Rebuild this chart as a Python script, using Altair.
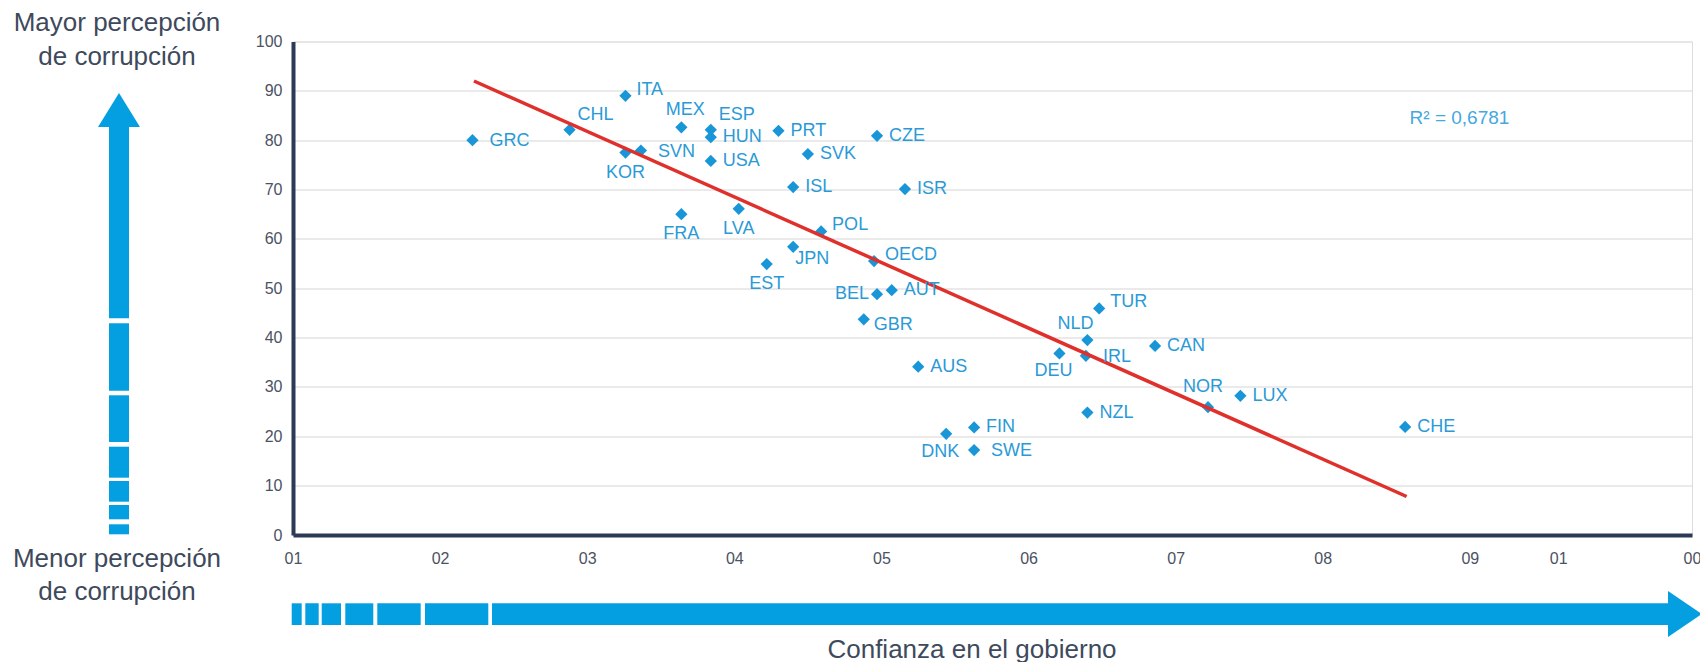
import json
import altair as alt
import pandas as pd

# ---------------- data ----------------
countries = ["GRC", "CHL", "ITA", "KOR", "SVN", "MEX", "FRA", "ESP", "HUN", "USA",
             "PRT", "SVK", "CZE", "ISL", "ISR", "LVA", "POL", "JPN", "EST", "OECD",
             "BEL", "AUT", "GBR", "TUR", "NLD", "DEU", "IRL", "CAN", "AUS", "NOR",
             "LUX", "NZL", "FIN", "DNK", "SWE", "CHE"]
trust = [22.2, 28.8, 32.6, 32.6, 33.65, 36.4, 36.4, 38.4, 38.4, 38.4,
         43.0, 45.0, 49.7, 44.0, 51.6, 40.3, 45.9, 44.0, 42.2, 49.5,
         49.7, 50.7, 48.8, 64.8, 64.0, 62.1, 63.9, 68.6, 52.5, 72.2,
         74.4, 64.0, 56.3, 54.4, 56.3, 85.6]
corruption = [80.0, 82.1, 89.0, 77.5, 77.9, 82.6, 65.0, 82.1, 80.6, 75.8,
              81.9, 77.2, 80.9, 70.5, 70.1, 66.1, 61.5, 58.4, 54.9, 55.5,
              48.8, 49.6, 43.7, 45.9, 39.5, 36.8, 36.3, 38.3, 34.1, 25.9,
              28.2, 24.8, 21.8, 20.5, 17.2, 21.9]

trend_x = [22.3, 85.7]
trend_y = [92.0, 7.8]

r2_text = ["R² = 0,6781"]
r2_x = [85.9]
r2_y = [84.4]

x_tick_values = [10, 20, 30, 40, 50, 60, 70, 80, 90, 96.0, 105.1]
x_tick_labels = ["01", "02", "03", "04", "05", "06", "07", "08", "09", "01", "00"]
y_tick_values = [0, 10, 20, 30, 40, 50, 60, 70, 80, 90, 100]

# ---------------- styling ----------------
FONT = "Liberation Sans"
BLUE_PT = "#1896d8"
BLUE_TXT = "#2a9ad7"
BLUE_R2 = "#45a8e0"
BLUE_ARROW = "#049fe1"
RED = "#e0302b"
DARK = "#3e4a5c"
AXIS = "#2b3a55"
TICK_TXT = "#4b5262"

W, H = 1399, 493.5

df = pd.DataFrame({"country": countries, "trust": trust, "corr": corruption})
trend_df = pd.DataFrame({"trust": trend_x, "corr": trend_y})
r2_df = pd.DataFrame({"trust": r2_x, "corr": r2_y, "t": r2_text})

labels_js = json.dumps(x_tick_labels)
values_js = json.dumps(x_tick_values)

x_enc = alt.X("trust:Q",
              scale=alt.Scale(domain=[10, 105.1], nice=False, zero=False),
              axis=alt.Axis(values=x_tick_values, title=None, grid=False, ticks=False,
                            labelExpr=f"{labels_js}[indexof({values_js}, datum.value)]",
                            labelFont=FONT, labelFontSize=16, labelColor=TICK_TXT,
                            labelPadding=15, domainColor=AXIS, domainWidth=4,
                            labelFlush=False, labelOverlap=False))
y_enc = alt.Y("corr:Q",
              scale=alt.Scale(domain=[0, 100], nice=False, zero=True),
              axis=alt.Axis(values=y_tick_values, title=None, grid=True, ticks=False,
                            gridColor="#e3e3e3", gridWidth=1.5,
                            labelFont=FONT, labelFontSize=16, labelColor=TICK_TXT,
                            labelPadding=11, domainColor=AXIS, domainWidth=4))

base = alt.Chart(df)

points = base.mark_point(shape="diamond", filled=True, size=150, color=BLUE_PT,
                         opacity=1, strokeWidth=0).encode(x=x_enc, y=y_enc)

trend = alt.Chart(trend_df).mark_line(color=RED, strokeWidth=3.5).encode(
    x="trust:Q", y="corr:Q")

r2 = alt.Chart(r2_df).mark_text(align="left", baseline="middle", font=FONT,
                                fontSize=19, color=BLUE_R2).encode(
    x="trust:Q", y="corr:Q", text="t:N")

# label placement (style), countries grouped by where their label sits
placement = {
    "r": (dict(align="left", dx=12, dy=0),
          ["HUN", "USA", "PRT", "SVK", "CZE", "ISL", "ISR", "AUT", "CAN", "AUS",
           "LUX", "NZL", "FIN", "CHE"]),
    "rg": (dict(align="left", dx=10, dy=6), ["GBR"]),
    "rw": (dict(align="left", dx=17, dy=1), ["GRC", "SVN", "IRL", "SWE"]),
    "ru": (dict(align="left", dx=11, dy=-6), ["ITA", "POL", "OECD", "TUR"]),
    "ar": (dict(align="left", dx=8, dy=-15), ["CHL", "ESP"]),
    "a": (dict(align="center", dx=4, dy=-17), ["MEX"]),
    "an": (dict(align="center", dx=-5, dy=-20), ["NOR"]),
    "al": (dict(align="center", dx=-12, dy=-16), ["NLD"]),
    "b": (dict(align="center", dx=0, dy=20), ["KOR", "FRA", "LVA", "EST"]),
    "bl": (dict(align="center", dx=-6, dy=18), ["DEU", "DNK"]),
    "br": (dict(align="left", dx=2, dy=12), ["JPN"]),
    "l": (dict(align="right", dx=-8, dy=0), ["BEL"]),
}
label_layers = []
for key, (props, members) in placement.items():
    label_layers.append(
        base.transform_filter(alt.FieldOneOfPredicate(field="country", oneOf=members))
        .mark_text(baseline="middle", font=FONT, fontSize=18, color=BLUE_TXT, **props)
        .encode(x="trust:Q", y="corr:Q", text="country:N")
    )

# ---------------- decorations (outside the plot area) ----------------
one = alt.Data(values=[{"k": 1}])


def rect(x0, x1, y0, y1):
    return alt.Chart(one).mark_rect(color=BLUE_ARROW).encode(
        x=alt.value(x0), x2=alt.value(x1), y=alt.value(y0), y2=alt.value(y1))


def label(text, x, y, size=26, align="center"):
    return alt.Chart(one).mark_text(font=FONT, fontSize=size, color=DARK,
                                    align=align, baseline="alphabetic").encode(
        x=alt.value(x), y=alt.value(y), text=alt.value(text))


v_segments = [(84.5, 276.8), (281.8, 349.2), (353.8, 400.5), (405.2, 436.2),
              (439.5, 460.2), (463.5, 477.8), (482.8, 492.8)]
h_segments = [(-1.3, 8.7), (12.3, 25.7), (28.7, 48.0), (52.3, 80.3),
              (84.3, 127.7), (132.0, 195.3), (199.0, 1376.0)]

decor = []
for (a, b) in v_segments:
    decor.append(rect(-184, -164, a, b))
for (a, b) in h_segments:
    decor.append(rect(a, b, 561.8, 583.5))

decor.append(alt.Chart(one).mark_point(shape="M0,-1L1.235,1L-1.235,1Z", filled=True,
                                       size=1156, color=BLUE_ARROW, opacity=1,
                                       strokeWidth=0)
             .encode(x=alt.value(-174), y=alt.value(68.5)))
decor.append(alt.Chart(one).mark_point(shape="M1,0L-1,1.353L-1,-1.353Z", filled=True,
                                       size=1156, color=BLUE_ARROW, opacity=1,
                                       strokeWidth=0)
             .encode(x=alt.value(1392), y=alt.value(572.5)))

decor += [
    label("Mayor percepción", -176, -10.5),
    label("de corrupción", -176, 23.5),
    label("Menor percepción", -176, 525.5),
    label("de corrupción", -176, 558.5),
    label("Confianza en el gobierno", 679, 616),
]

chart = alt.layer(points, trend, r2, *label_layers, *decor).properties(
    width=W, height=H,
    autosize=alt.AutoSizeParams(type="none"),
    padding={"left": 285, "top": 33.5, "right": 8, "bottom": 127},
).configure_view(stroke=None).configure(background="white")

chart.save("out.html", embed_options={"renderer": "svg", "actions": False})
